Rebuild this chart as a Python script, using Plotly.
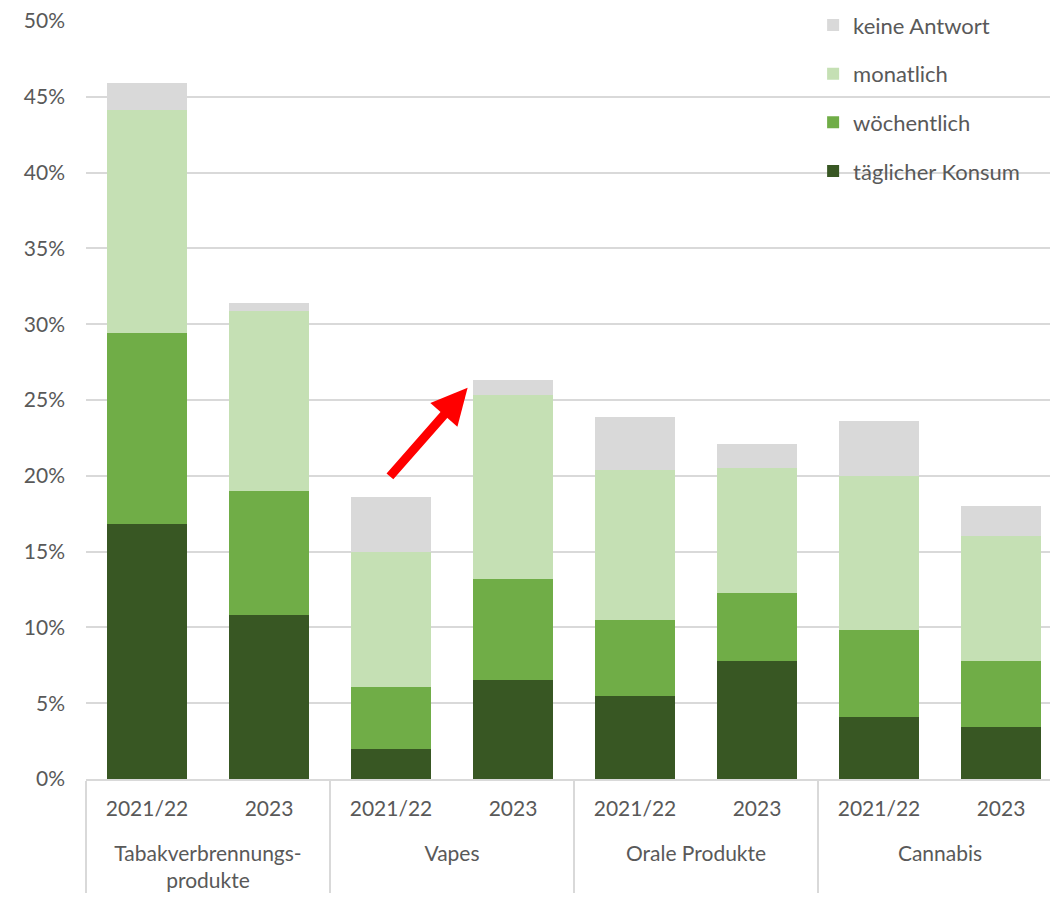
import plotly.graph_objects as go

groups = ["<br>Tabakverbrennungs-<br>produkte", "<br>Vapes", "<br>Orale Produkte", "<br>Cannabis"]
years = ["2021/22", "2023"]

taeglich = [16.8, 10.8, 2.0, 6.5, 5.5, 7.8, 4.1, 3.4]
woechentlich = [12.6, 8.2, 4.1, 6.7, 5.0, 4.5, 5.7, 4.4]
monatlich = [14.7, 11.9, 8.9, 12.1, 9.9, 8.2, 10.2, 8.2]
keine_antwort = [1.8, 0.5, 3.6, 1.0, 3.5, 1.6, 3.6, 2.0]

series = [
    ("täglicher Konsum", taeglich, "#385723"),
    ("wöchentlich", woechentlich, "#70ad47"),
    ("monatlich", monatlich, "#c5e0b4"),
    ("keine Antwort", keine_antwort, "#d9d9d9"),
]

x_outer = [g for g in groups for _ in years]
x_inner = [y for _ in groups for y in years]

fig = go.Figure()
for i, (name, vals, col) in enumerate(series):
    fig.add_trace(go.Bar(x=[x_outer, x_inner], y=vals, name=name, legendgroup=name,
                         legendrank=100 - i,
                         marker=dict(color=col, line=dict(width=0))))

font = "Lato, 'Open Sans', sans-serif"
fig.update_layout(
    width=1062, height=900,
    barmode="stack", bargap=0.35,
    plot_bgcolor="white", paper_bgcolor="white",
    margin=dict(l=86, r=0, t=21, b=121),
    font=dict(family=font, size=21, color="#595959"),
    legend=dict(x=0.745, y=1.022, xanchor="left", yanchor="top",
                traceorder="grouped", font=dict(size=22, color="#595959"),
                itemwidth=30, tracegroupgap=17, bgcolor="rgba(0,0,0,0)"),
    xaxis=dict(type="multicategory", showline=True, linecolor="#d9d9d9", linewidth=2,
               showdividers=True, dividercolor="#d9d9d9", dividerwidth=2,
               tickfont=dict(size=21, color="#595959"), ticks="",
               ticklabelstandoff=10, automargin=False),
    yaxis=dict(range=[0, 50], tickvals=list(range(0, 51, 5)),
               ticktext=[f"{v}%" for v in range(0, 51, 5)],
               showgrid=True, gridcolor="#d9d9d9", gridwidth=2,
               zeroline=False, showline=False, ticks="",
               ticklabelstandoff=20, automargin=False,
               tickfont=dict(size=21, color="#595959")),
)

fig.add_annotation(x=0.391, y=0.516, xref="paper", yref="paper",
                   ax=-79, ay=90, axref="pixel", ayref="pixel",
                   showarrow=True, arrowhead=2, arrowsize=0.8, arrowwidth=9,
                   arrowcolor="#ff0000", text="")

fig.write_html("out.html", config={"displayModeBar": False},
               post_script="document.body.style.margin='0';document.body.style.overflow='hidden';")
